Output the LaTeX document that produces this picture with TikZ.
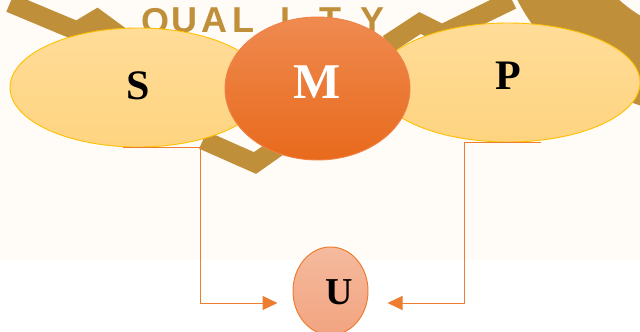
\documentclass[tikz,border=0pt]{standalone}
\usepackage{fontspec}
\setmainfont{Liberation Serif}
\newfontfamily\wmfont[BoldFont={Liberation Sans Bold}]{Liberation Sans}
\usetikzlibrary{shapes.geometric,arrows.meta,calc}
\definecolor{wm}{RGB}{192,143,58}
\definecolor{cream}{RGB}{255,251,247}
\definecolor{elltop}{RGB}{255,220,152}
\definecolor{ellbot}{RGB}{254,212,128}
\definecolor{ellline}{RGB}{255,192,0}
\definecolor{mtop}{RGB}{239,138,80}
\definecolor{mbot}{RGB}{232,106,28}
\definecolor{mline}{RGB}{240,130,70}
\definecolor{conn}{RGB}{237,125,49}
\definecolor{utop}{RGB}{245,186,158}
\definecolor{ubot}{RGB}{242,164,128}
\tikzset{
  wmband/.style={draw=wm, line width=19pt, line cap=butt, line join=miter},
  wmletter/.style={text=wm, font=\wmfont\bfseries\fontsize{36}{36}\selectfont, inner sep=0pt, anchor=north},
  sideell/.style={ellipse, draw=ellline, line width=0.9pt, top color=elltop, bottom color=ellbot, inner sep=0pt},
  midell/.style={ellipse, draw=mline, line width=0.9pt, top color=mtop, bottom color=mbot, inner sep=0pt},
  uell/.style={ellipse, draw=conn, line width=1pt, top color=utop, bottom color=ubot, inner sep=0pt},
  lettertext/.style={inner sep=0pt, font=\bfseries},
  connline/.style={draw=conn, line width=1pt, -{Triangle[length=15pt,width=14pt]}}
}
\begin{document}
\begin{tikzpicture}[x=1pt,y=-1pt]
\useasboundingbox (0,0) rectangle (640,332);
\fill[white] (0,0) rectangle (640,332);
\fill[cream] (0,0) rectangle (640,260);
% watermark
\begin{scope}
\clip (0,0) rectangle (640,332);
\fill[wm, even odd rule] (710,-100) circle (217) (710,-100) circle (135);
\draw[wmband] (10,3) -- (77,31) -- (97,19) -- (127,41);
\draw[wmband] (388,44) -- (420,23) -- (442,34) -- (512,0);
\draw[wmband] (203,140) -- (255,163) -- (292,137);
\node[wmletter] (w1) at (155,8) {Q};
\node[wmletter] (w2) at (184,8) {U};
\node[wmletter] (w3) at (214,8) {A};
\node[wmletter] (w4) at (243,8) {L};
\node[wmletter] (w5) at (285,8) {I};
\node[wmletter] (w6) at (330,8) {T};
\node[wmletter] (w7) at (373,8) {Y};
\end{scope}
% shapes
\node[sideell, minimum width=256, minimum height=119] (S) at (138,87.5) {};
\node[sideell, minimum width=264, minimum height=119] (P) at (508,82.5) {};
\node[midell, minimum width=185, minimum height=143] (M) at (317.5,88.5) {};
\node[uell, minimum width=75, minimum height=88] (U) at (330.5,291) {};
% letters
\node[lettertext, font=\bfseries\fontsize{42}{42}\selectfont] (St) at (138,86) {S};
\node[lettertext, font=\bfseries\fontsize{50}{50}\selectfont, text=white] (Mt) at (317,82) {M};
\node[lettertext, font=\bfseries\fontsize{42}{42}\selectfont] (Pt) at (508,76) {P};
\node[lettertext, font=\bfseries\fontsize{38}{38}\selectfont] (Ut) at (339,292) {U};
% connectors
\draw[connline] ($(S.south)+(-15,0.5)$) -- ++(77,0) |- ($(U.west)+(-15,12)$);
\draw[connline] ($(P.south)+(33,0)$) -- ++(-77,0) |- ($(U.east)+(19,12)$);
\end{tikzpicture}
\end{document}
